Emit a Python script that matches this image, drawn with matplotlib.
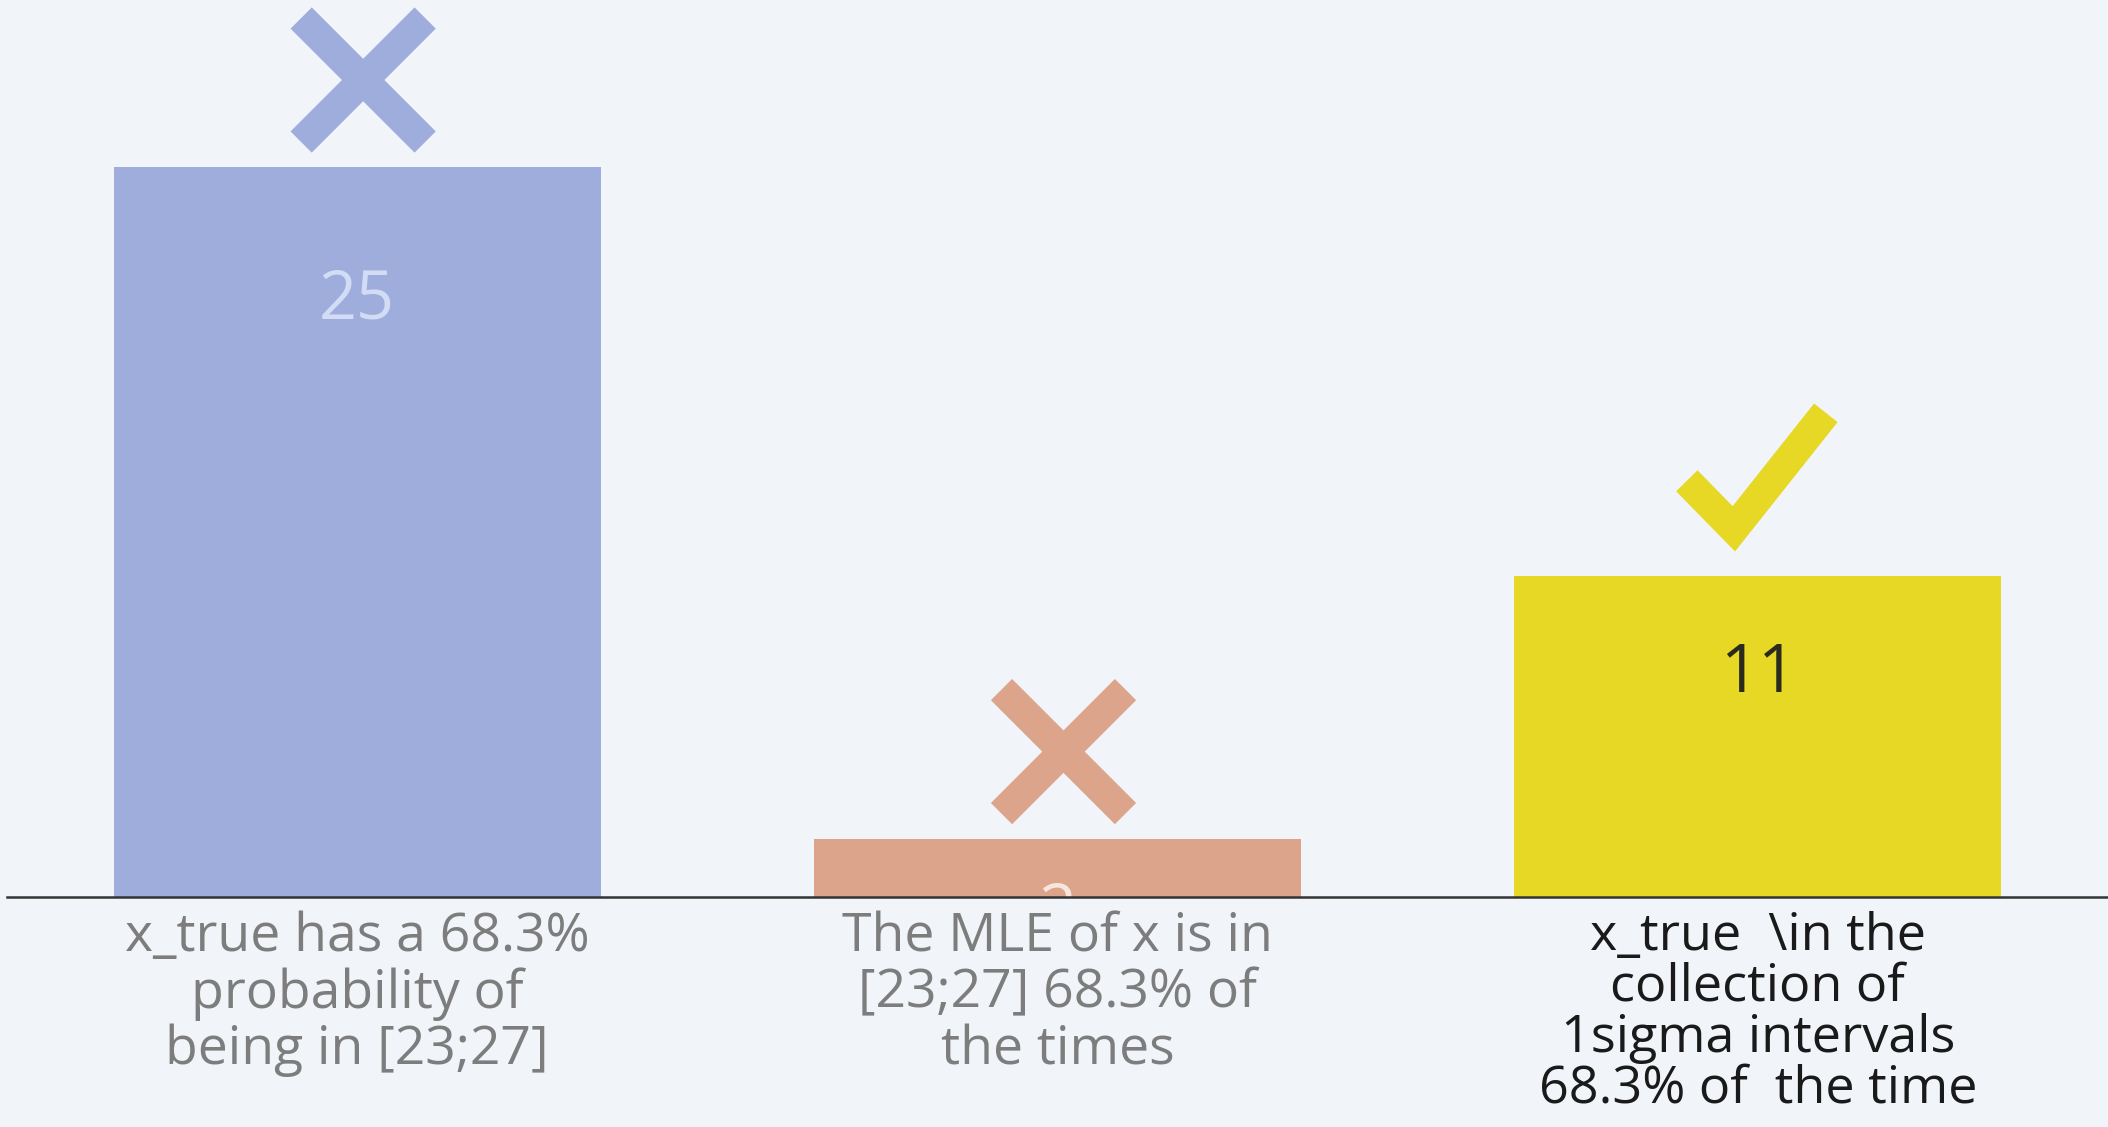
import matplotlib
matplotlib.use('Agg')
import matplotlib.pyplot as plt

# Data
categories = ['x_true has a 68.3%\nprobability of\nbeing in [23;27]',
              'The MLE of x is in\n[23;27] 68.3% of\nthe times',
              'x_true  \\in the\ncollection of\n1sigma intervals\n68.3% of  the time']
counts = [25, 2, 11]
marks = ['cross', 'cross', 'check']

# Styling
bar_colors = ['#9EADDC', '#DBA48B', '#E6D824']
value_colors = ['#D2DCF5', '#F6E6DE', '#2B2A1E']
label_colors = ['#7D7D7D', '#7D7D7D', '#1A1A1A']
label_sizes = [38.5, 38.5, 37.5]
label_spacing = [1.07, 1.07, 1.0]
bg = '#F1F4F9'
font = 'Open Sans'

W, H, DPI = 2108, 1127, 100
fig = plt.figure(figsize=(W / DPI, H / DPI), dpi=DPI, facecolor=bg)

# axes fills the width, bottom axis line at y=897 px
ax_left, ax_bottom_px = 7, 897
ax = fig.add_axes([ax_left / W, (H - ax_bottom_px) / H, (W - ax_left) / W, ax_bottom_px / H])
ax.set_facecolor(bg)

x = list(range(len(counts)))
ax.bar(x, counts, width=0.695, color=bar_colors, zorder=2)
ax.set_xlim(-0.5, len(counts) - 0.5)
ax.set_ylim(0, 30.72)

# pixel -> data conversion
ux = (len(counts)) / (W - ax_left)
uy = 30.72 / ax_bottom_px

# value labels inside the bars
for i, v in enumerate(counts):
    ax.text(i, v * 0.913 - 2.4, str(v), ha='center', va='center',
            fontsize=48, color=value_colors[i], family=font, zorder=3, clip_on=True)

# cross / check marks above the bars
lw = 30 * 72 / DPI
for i, v in enumerate(counts):
    if marks[i] == 'cross':
        cx, cy = i + 6 * ux, v + 87 * uy
        d = 62
        ax.plot([cx - d * ux, cx + d * ux], [cy + d * uy, cy - d * uy],
                color=bar_colors[i], lw=lw, solid_capstyle='butt', clip_on=False, zorder=3)
        ax.plot([cx - d * ux, cx + d * ux], [cy - d * uy, cy + d * uy],
                color=bar_colors[i], lw=lw, solid_capstyle='butt', clip_on=False, zorder=3)
    else:
        px = [-71, -24, 68]
        py = [95, 47, 163]
        ax.plot([i + p * ux for p in px], [v + q * uy for q in py],
                color=bar_colors[i], lw=lw, solid_capstyle='butt',
                solid_joinstyle='miter', clip_on=False, zorder=3)

# category labels below the axis
for i, lab in enumerate(categories):
    ax.annotate(lab, xy=(i, 0), xytext=(0, -10), textcoords='offset points',
                ha='center', va='top', fontsize=label_sizes[i], color=label_colors[i],
                family=font, linespacing=label_spacing[i], annotation_clip=False)

for s in ['top', 'right', 'left']:
    ax.spines[s].set_visible(False)
ax.spines['bottom'].set_color('#333333')
ax.spines['bottom'].set_linewidth(1.8)
ax.spines['bottom'].set_zorder(4)
ax.set_xticks([])
ax.set_yticks([])

fig.savefig('out.png', dpi=DPI, facecolor=bg)
